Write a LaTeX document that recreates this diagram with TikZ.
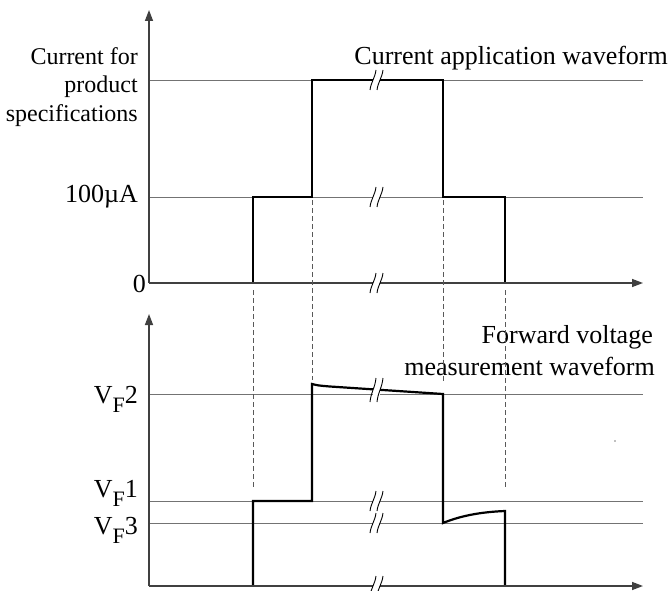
\documentclass[tikz,border=0pt]{standalone}
\usepackage{fontspec}
\setmainfont{Liberation Serif}
\usetikzlibrary{arrows.meta}

% break symbol on a horizontal line: #1 x, #2 y, #3 half height
\newcommand\brkmark[3]{%
  \fill[white] ({#1-3},{#2-#3+5}) rectangle ({#1+4},{#2+#3-5});
  \draw[brkline] ({#1-6},{#2+#3}) .. controls ({#1-5},{#2+2}) and ({#1-1},{#2-2}) .. ({#1},{#2-#3});
  \draw[brkline] ({#1+1},{#2+#3}) .. controls ({#1+2},{#2+2}) and ({#1+6},{#2-2}) .. ({#1+7},{#2-#3});
}
\newcommand\subF{\raisebox{-9bp}{\fontsize{22bp}{22bp}\selectfont F}}

\begin{document}
\begin{tikzpicture}[x=1bp,y=-1bp,
  axis/.style={draw=black!75, line width=1.4bp, -{Triangle[length=11bp,width=8bp]}},
  level/.style={draw=black!55, line width=0.9bp},
  wave/.style={draw=black, line width=2.2bp, line join=miter},
  guide/.style={draw=black!65, line width=0.9bp, dash pattern=on 5bp off 3bp},
  brkline/.style={draw=black, line width=0.9bp},
  lbl/.style={inner sep=0pt, font=\fontsize{26bp}{28bp}\selectfont},
  slbl/.style={inner sep=0pt, font=\fontsize{24bp}{26bp}\selectfont},
]
\useasboundingbox (0,0) rectangle (669,591);

% ---------- current application waveform ----------
\coordinate (O1) at (149,283);
\coordinate (Y1) at (149,10);
\coordinate (X1) at (643,283);

\draw[level] (149,80) -- (643,80);
\draw[level] (149,197) -- (643,197);
\draw[wave] (253,283) -- (253,197) -- (312,197) -- (312,80) -- (443,80)
  -- (443,197) -- (505,197) -- (505,283);
\draw[axis] (O1) -- (Y1);
\draw[axis] (O1) -- (X1);

\brkmark{376}{80}{10}
\brkmark{376}{197}{10}
\brkmark{376}{283}{10}

\node[slbl, anchor=base east] (spec1) at (138,65) {Current for};
\node[slbl, anchor=base east] (spec2) at (138,93) {product};
\node[slbl, anchor=base east] (spec3) at (138,122) {specifications};
\node[lbl, anchor=base east] (i100) at (138,202) {100µA};
\node[lbl, anchor=base east] (zero) at (146,292) {0};
\node[lbl, anchor=base east] (ttl1) at (668,65) {Current application waveform};

% ---------- forward voltage measurement waveform ----------
\coordinate (O2) at (149,586);
\coordinate (Y2) at (149,314);
\coordinate (X2) at (643,586);

\draw[level] (149,394) -- (643,394);
\draw[level] (149,501) -- (643,501);
\draw[level] (149,523) -- (643,523);
\draw[wave] (253,586) -- (253,501) -- (312,501) -- (312,384)
  .. controls (318,385.5) .. (330,386.5) -- (443,394) -- (443,523)
  .. controls (460,516) and (480,512) .. (505,511) -- (505,586);
\draw[axis] (O2) -- (Y2);
\draw[axis] (O2) -- (X2);

\brkmark{376}{390}{12}
\brkmark{376}{501}{10}
\brkmark{376}{523}{10}
\brkmark{376}{586}{10}

\node[lbl, anchor=base east] (vf2) at (138,403) {V\subF2};
\node[lbl, anchor=base east] (vf1) at (138,497) {V\subF1};
\node[lbl, anchor=base east] (vf3) at (138,534) {V\subF3};
\node[lbl, anchor=base east] (ttl2a) at (653,343) {Forward voltage};
\node[lbl, anchor=base east] (ttl2b) at (655,375) {measurement waveform};

\fill[black!50] (615,441) circle (0.8);

% ---------- timing guides between the two waveforms ----------
\draw[guide] (253,290) -- (253,488);
\draw[guide] (312,200) -- (312,380);
\draw[guide] (443,200) -- (443,383);
\draw[guide] (505,290) -- (505,490);
\end{tikzpicture}
\end{document}
